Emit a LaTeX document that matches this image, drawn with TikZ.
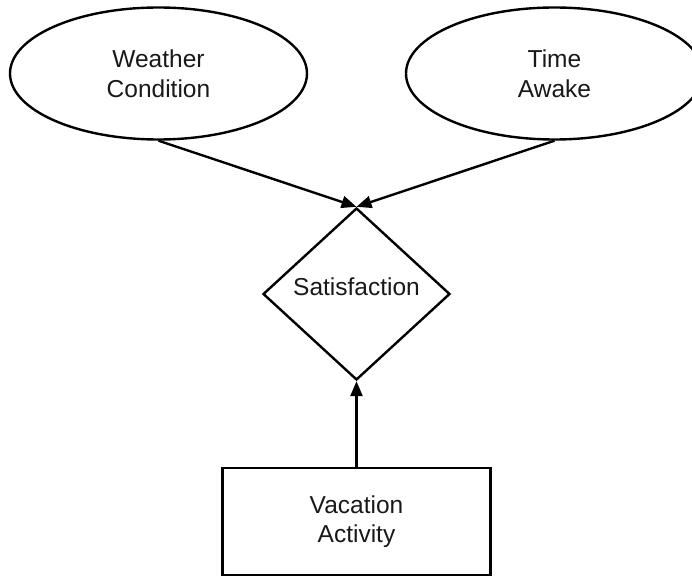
\documentclass[tikz,border=0pt]{standalone}
\usepackage{fontspec}
\setmainfont{Liberation Sans}
\usetikzlibrary{shapes.geometric,arrows.meta}
\tikzset{
  every node/.style={font=\fontsize{24.5}{29.5}\selectfont, align=center, inner sep=0pt, text=black!90},
  factor/.style={draw, line width=2.4pt, ellipse, minimum width=297pt, minimum height=132pt},
  decision/.style={draw, line width=2.4pt, diamond, minimum width=187pt, minimum height=172pt},
  choice/.style={draw, line width=2.4pt, rectangle, minimum width=268pt, minimum height=107pt},
  link/.style={line width=2.4pt, -{Triangle[length=15pt, width=12pt]}}
}
\begin{document}
\begin{tikzpicture}[x=1pt, y=-1pt]
  \useasboundingbox (0,0) rectangle (692,577);
  \fill[white] (0,0) rectangle (692,577);
  \node[factor] (weather) at (158.5,73.5) {Weather\\Condition};
  \node[factor] (awake) at (554.5,73.5) {Time\\Awake};
  \node[decision] (sat) at (356.5,294) {};
  \node at (356.5,287) {Satisfaction};
  \node[choice] (act) at (356.5,521.5) {Vacation\\Activity};
  \draw[link] (weather.south) -- (sat.north);
  \draw[link] (awake.south) -- (sat.north);
  \draw[link] (act.north) -- (sat.south);
\end{tikzpicture}
\end{document}
